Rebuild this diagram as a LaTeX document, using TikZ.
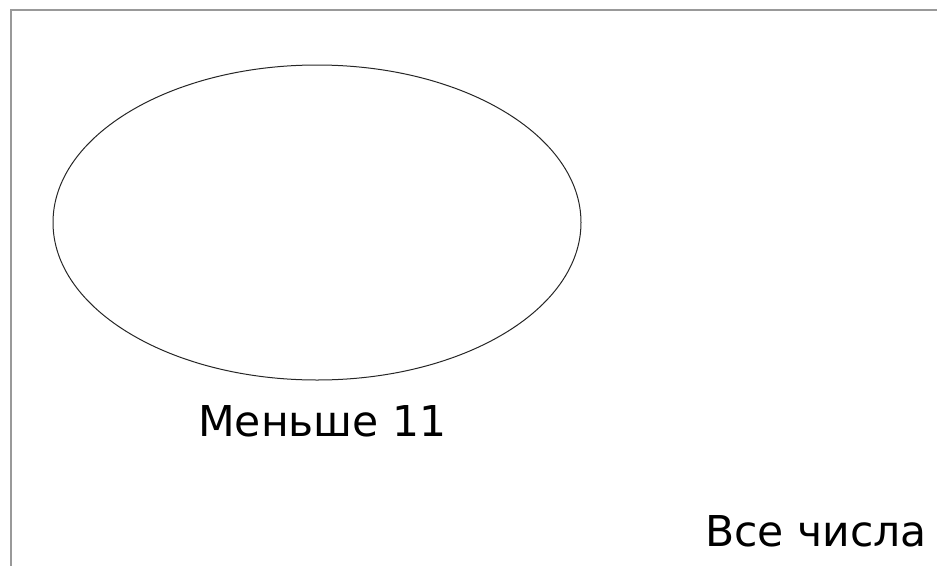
\documentclass[tikz,border=0pt]{standalone}
\usepackage{fontspec}
\setmainfont{DejaVu Sans}
\usetikzlibrary{shapes.geometric}
\begin{document}
\begin{tikzpicture}[x=1pt,y=-1pt,
  frame/.style={draw=black!40,line width=2pt},
  setshape/.style={draw=black!85,line width=1pt},
  lbl/.style={font=\fontsize{42.5}{50}\selectfont,inner sep=0pt,anchor=base west}]
\useasboundingbox (0,0) rectangle (937,565);
\clip (0,0) rectangle (937,565);
\draw[frame] (11,10) rectangle (960,600);
\node[setshape,ellipse,minimum width=528pt,minimum height=315pt,inner sep=0pt] (less) at (317,222.5) {};
\node[lbl] (lessl) at (198,436) {Меньше 11};
\node[lbl] (alll) at (705,546) {Все числа};
\end{tikzpicture}
\end{document}
